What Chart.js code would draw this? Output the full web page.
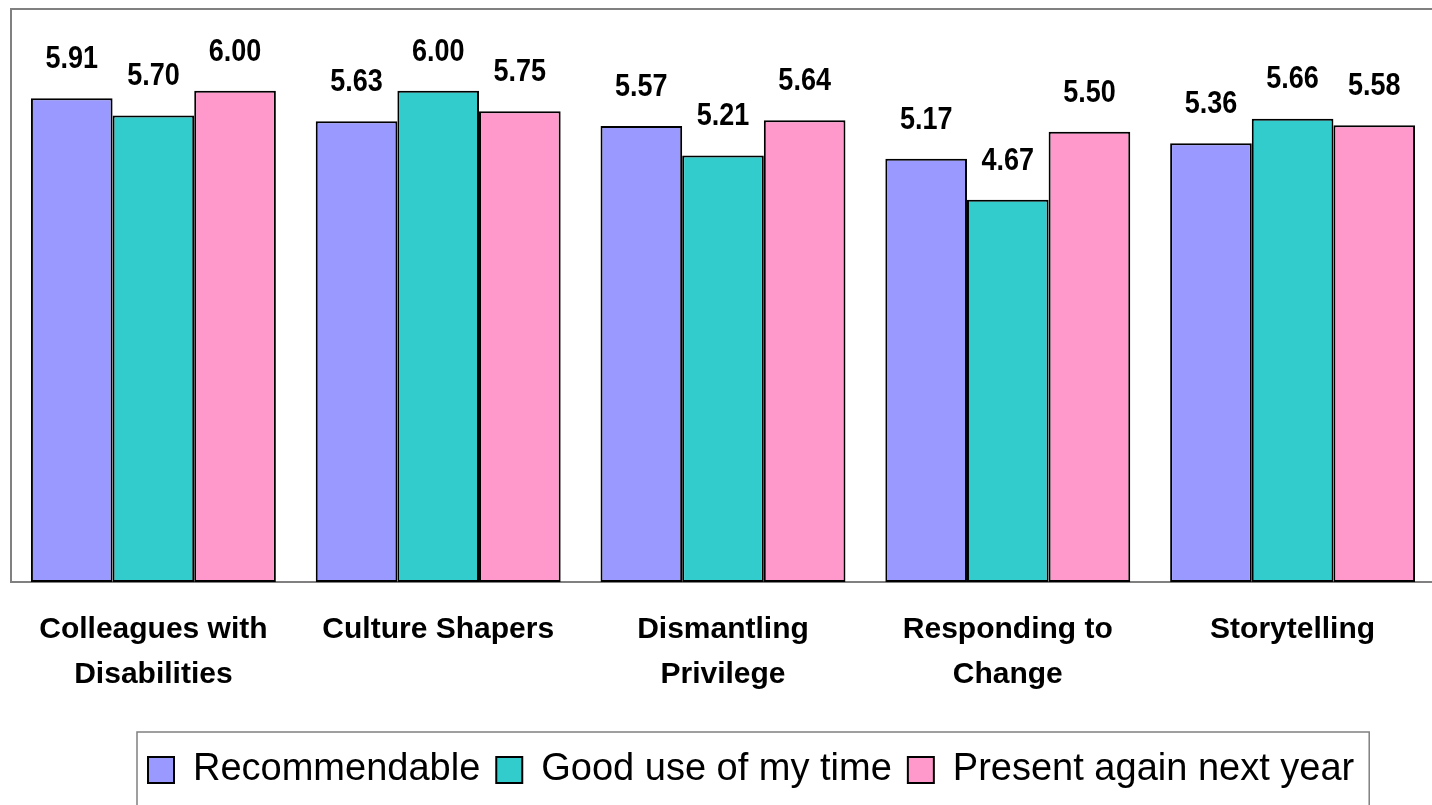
<!DOCTYPE html>
<html><head><meta charset="utf-8">
<script src="https://cdn.jsdelivr.net/npm/chart.js@4"></script>
<style>
html,body{margin:0;padding:0;overflow:hidden;background:#fff;width:1432px;height:805px}
#wrap{position:absolute;left:0;top:0;width:1440px;height:805px}
</style>
</head><body><div id="wrap"><canvas id="c"></canvas></div>
<script>
const categories = [['Colleagues with','Disabilities'], 'Culture Shapers', ['Dismantling','Privilege'], ['Responding to','Change'], 'Storytelling'];
const seriesNames = ['Recommendable', 'Good use of my time', 'Present again next year'];
const recommendable = [5.91, 5.63, 5.57, 5.17, 5.36];
const goodUse = [5.70, 6.00, 5.21, 4.67, 5.66];
const presentAgain = [6.00, 5.75, 5.64, 5.50, 5.58];
const seriesColors = ['#9999FF', '#33CCCC', '#FF99CC'];

const FONT = '"Liberation Sans", Arial, sans-serif';

const framePlugin = {
  id: 'frame',
  beforeDatasetsDraw(chart) {
    const {ctx, chartArea: a} = chart;
    ctx.save();
    ctx.strokeStyle = '#808080';
    ctx.lineWidth = 2;
    ctx.strokeRect(a.left, a.top, a.right - a.left, a.bottom - a.top);
    ctx.restore();
  }
};

const labelPlugin = {
  id: 'valueLabels',
  afterDatasetsDraw(chart) {
    const {ctx} = chart;
    chart.data.datasets.forEach((ds, i) => {
      chart.getDatasetMeta(i).data.forEach((el, j) => {
        ctx.save();
        ctx.translate(el.x, el.y - 39);
        ctx.scale(1, 1.18);
        ctx.font = 'bold 27px ' + FONT;
        ctx.fillStyle = '#000';
        ctx.textAlign = 'center';
        ctx.textBaseline = 'middle';
        ctx.fillText(ds.data[j].toFixed(2), 0, 0);
        ctx.restore();
      });
    });
  }
};

const legendPlugin = {
  id: 'legendShift',
  afterLayout(chart) {
    const lg = chart.legend;
    if (!lg || !lg.lineWidths) return;
    const pad = lg.options.labels.padding;
    const start = (lg.left + pad + lg.right - lg.lineWidths[0]) / 2;
    const dx = 148 - start;
    lg.left += dx; lg.right += dx;
  },
  afterDraw(chart) {
    const lg = chart.legend;
    if (!lg || !lg.lineWidths) return;
    const pad = lg.options.labels.padding;
    const start = (lg.left + pad + lg.right - lg.lineWidths[0]) / 2;
    const w = lg.lineWidths[0] - pad;
    const {ctx} = chart;
    ctx.save();
    ctx.strokeStyle = '#808080';
    ctx.lineWidth = 1.5;
    ctx.strokeRect(start - 11, 732, w + 26, 120);
    ctx.restore();
  }
};

new Chart(document.getElementById('c'), {
  type: 'bar',
  data: {
    labels: categories,
    datasets: [
      {label: seriesNames[0], data: recommendable, backgroundColor: seriesColors[0]},
      {label: seriesNames[1], data: goodUse, backgroundColor: seriesColors[1]},
      {label: seriesNames[2], data: presentAgain, backgroundColor: seriesColors[2]}
    ].map(d => Object.assign(d, {borderColor: '#000', borderWidth: 2, borderSkipped: false}))
  },
  options: {
    responsive: true,
    maintainAspectRatio: false,
    animation: false,
    layout: {padding: {left: 0, right: 5, top: 9, bottom: 6}},
    datasets: {bar: {categoryPercentage: 0.86, barPercentage: 1}},
    scales: {
      x: {
        grid: {display: false, drawTicks: false},
        border: {display: false},
        ticks: {color: '#000', padding: 25.5, maxRotation: 0, autoSkip: false,
                font: {family: FONT, size: 30, weight: 'bold', lineHeight: 1.5}},
        afterFit(s) { s.height = 153; }
      },
      y: {
        min: 0, max: 7,
        grid: {display: false, drawTicks: false},
        border: {display: false},
        ticks: {display: false},
        afterFit(s) { s.width = 11; }
      }
    },
    plugins: {
      legend: {
        position: 'bottom',
        labels: {color: '#000', boxWidth: 26, boxHeight: 26, padding: 16,
                 font: {family: FONT, size: 38}}
      },
      tooltip: {enabled: false}
    }
  },
  plugins: [framePlugin, labelPlugin, legendPlugin]
});
</script>
</body></html>
